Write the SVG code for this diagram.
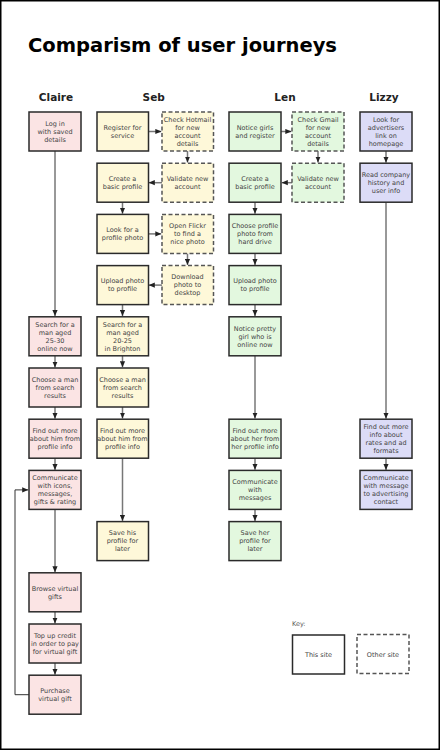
<svg xmlns="http://www.w3.org/2000/svg" width="440" height="750" viewBox="0 0 440 750">
<style>
.box{stroke:#2a2a2a;stroke-width:1.5}
.dash{stroke:#555;stroke-width:1.5;stroke-dasharray:4 2.5}
.claire{fill:#fbe4e4}.seb{fill:#fef8d9}.len{fill:#e3f8df}.lizzy{fill:#dcdcf7}.white{fill:#fff}
.t{font-family:"DejaVu Sans",Verdana,sans-serif;font-size:6.5px;fill:#444;text-anchor:middle}
.h{font-family:"DejaVu Sans",Verdana,sans-serif;font-size:10.5px;font-weight:bold;fill:#222;text-anchor:middle}
.c{fill:none;stroke:#333;stroke-width:1;marker-end:url(#arr)}
.g{fill:none;stroke:#777;stroke-width:1.5;marker-end:url(#arr)}
</style>
<defs>
<marker id="arr" markerUnits="userSpaceOnUse" markerWidth="6" markerHeight="6" viewBox="0 0 6 6" refX="6" refY="3" orient="auto">
<path d="M0,0.4 L6,3 L0,5.6 z" fill="#222"/>
</marker>
</defs>
<rect x="0.75" y="0.75" width="438.5" height="748.5" fill="#fff" stroke="#000" stroke-width="1.5"/>
<text x="28" y="51.5" font-family="DejaVu Sans,Verdana,sans-serif" font-size="19.5" font-weight="bold" fill="#000">Comparism of user journeys</text>
<g id="headers">
<text class="h" x="56" y="101">Claire</text>
<text class="h" x="153.7" y="101">Seb</text>
<text class="h" x="285" y="101">Len</text>
<text class="h" x="384" y="101">Lizzy</text>
</g>
<g id="connectors">
<path class="c" d="M55,151V316"/>
<path class="c" d="M55,355.8V367.5"/>
<path class="c" d="M55,407V418.7"/>
<path class="c" d="M55,458.2V469.9"/>
<path class="c" d="M55,509.4V572.3"/>
<path class="c" d="M55,611.8V623.5"/>
<path class="c" d="M55,663V674.7"/>
<path class="c" d="M29,694.7H15V489.9H28.2"/>
<path class="g" d="M148.5,131.5H161.3"/>
<path class="g" d="M187.5,151V162.5"/>
<path class="g" d="M162,182.7H148.8"/>
<path class="g" d="M122.5,202.2V213.7"/>
<path class="g" d="M148.5,233.9H161.3"/>
<path class="g" d="M187.5,253.4V264.9"/>
<path class="g" d="M162,285.1H148.8"/>
<path class="g" d="M122.5,304.6V316.1"/>
<path class="g" d="M122.5,355.8V367.3"/>
<path class="g" d="M122.5,407V418.5"/>
<path class="g" d="M122.5,458.2V520.9"/>
<path class="g" d="M281,131.5H291.3"/>
<path class="g" d="M318,151V162.5"/>
<path class="g" d="M292,182.7H281.8"/>
<path class="g" d="M255,202.2V213.7"/>
<path class="g" d="M255,253.4V264.9"/>
<path class="g" d="M255,304.6V316.1"/>
<path class="g" d="M255,355.8V418.5"/>
<path class="g" d="M255,458.2V469.7"/>
<path class="g" d="M255,509.4V520.9"/>
<path class="c" d="M386,151V162.7"/>
<path class="c" d="M386,202.2V418.7"/>
<path class="c" d="M386,458.2V469.9"/>
</g>
<g id="claire-login"><rect class="box claire" x="29" y="112" width="52" height="39"/><text class="t" y="125.8"><tspan x="55">Log in</tspan><tspan x="55" dy="8">with saved</tspan><tspan x="55" dy="8">details</tspan></text></g>
<g id="claire-search"><rect class="box claire" x="29" y="316.8" width="52" height="39"/><text class="t" y="326.6"><tspan x="55">Search for a</tspan><tspan x="55" dy="8">man aged</tspan><tspan x="55" dy="8">25-30</tspan><tspan x="55" dy="8">online now</tspan></text></g>
<g id="claire-choose"><rect class="box claire" x="29" y="368" width="52" height="39"/><text class="t" y="381.8"><tspan x="55">Choose a man</tspan><tspan x="55" dy="8">from search</tspan><tspan x="55" dy="8">results</tspan></text></g>
<g id="claire-find"><rect class="box claire" x="29" y="419.2" width="52" height="39"/><text class="t" y="433"><tspan x="55">Find out more</tspan><tspan x="55" dy="8">about him from</tspan><tspan x="55" dy="8">profile info</tspan></text></g>
<g id="claire-communicate"><rect class="box claire" x="29" y="470.4" width="52" height="39"/><text class="t" y="480.2"><tspan x="55">Communicate</tspan><tspan x="55" dy="8">with icons,</tspan><tspan x="55" dy="8">messages,</tspan><tspan x="55" dy="8">gifts &amp; rating</tspan></text></g>
<g id="claire-browse"><rect class="box claire" x="29" y="572.8" width="52" height="39"/><text class="t" y="590.6"><tspan x="55">Browse virtual</tspan><tspan x="55" dy="8">gifts</tspan></text></g>
<g id="claire-topup"><rect class="box claire" x="29" y="624" width="52" height="39"/><text class="t" y="637.8"><tspan x="55">Top up credit</tspan><tspan x="55" dy="8">in order to pay</tspan><tspan x="55" dy="8">for virtual gift</tspan></text></g>
<g id="claire-purchase"><rect class="box claire" x="29" y="675.2" width="52" height="39"/><text class="t" y="693"><tspan x="55">Purchase</tspan><tspan x="55" dy="8">virtual gift</tspan></text></g>
<g id="seb-register"><rect class="box seb" x="97" y="112" width="51.5" height="39"/><text class="t" y="129.8"><tspan x="122.5">Register for</tspan><tspan x="122.5" dy="8">service</tspan></text></g>
<g id="seb-hotmail"><rect class="dash seb" x="162" y="112" width="51.5" height="39"/><text class="t" y="121.8"><tspan x="187.5">Check Hotmail</tspan><tspan x="187.5" dy="8">for new</tspan><tspan x="187.5" dy="8">account</tspan><tspan x="187.5" dy="8">details</tspan></text></g>
<g id="seb-create"><rect class="box seb" x="97" y="163.2" width="51.5" height="39"/><text class="t" y="181"><tspan x="122.5">Create a</tspan><tspan x="122.5" dy="8">basic profile</tspan></text></g>
<g id="seb-validate"><rect class="dash seb" x="162" y="163.2" width="51.5" height="39"/><text class="t" y="181"><tspan x="187.5">Validate new</tspan><tspan x="187.5" dy="8">account</tspan></text></g>
<g id="seb-look"><rect class="box seb" x="97" y="214.4" width="51.5" height="39"/><text class="t" y="232.2"><tspan x="122.5">Look for a</tspan><tspan x="122.5" dy="8">profile photo</tspan></text></g>
<g id="seb-flickr"><rect class="dash seb" x="162" y="214.4" width="51.5" height="39"/><text class="t" y="228.2"><tspan x="187.5">Open Flickr</tspan><tspan x="187.5" dy="8">to find a</tspan><tspan x="187.5" dy="8">nice photo</tspan></text></g>
<g id="seb-upload"><rect class="box seb" x="97" y="265.6" width="51.5" height="39"/><text class="t" y="283.4"><tspan x="122.5">Upload photo</tspan><tspan x="122.5" dy="8">to profile</tspan></text></g>
<g id="seb-download"><rect class="dash seb" x="162" y="265.6" width="51.5" height="39"/><text class="t" y="279.4"><tspan x="187.5">Download</tspan><tspan x="187.5" dy="8">photo to</tspan><tspan x="187.5" dy="8">desktop</tspan></text></g>
<g id="seb-search"><rect class="box seb" x="97" y="316.8" width="51.5" height="39"/><text class="t" y="326.6"><tspan x="122.5">Search for a</tspan><tspan x="122.5" dy="8">man aged</tspan><tspan x="122.5" dy="8">20-25</tspan><tspan x="122.5" dy="8">in Brighton</tspan></text></g>
<g id="seb-choose"><rect class="box seb" x="97" y="368" width="51.5" height="39"/><text class="t" y="381.8"><tspan x="122.5">Choose a man</tspan><tspan x="122.5" dy="8">from search</tspan><tspan x="122.5" dy="8">results</tspan></text></g>
<g id="seb-find"><rect class="box seb" x="97" y="419.2" width="51.5" height="39"/><text class="t" y="433"><tspan x="122.5">Find out more</tspan><tspan x="122.5" dy="8">about him from</tspan><tspan x="122.5" dy="8">profile info</tspan></text></g>
<g id="seb-save"><rect class="box seb" x="97" y="521.6" width="51.5" height="39"/><text class="t" y="535.4"><tspan x="122.5">Save his</tspan><tspan x="122.5" dy="8">profile for</tspan><tspan x="122.5" dy="8">later</tspan></text></g>
<g id="len-notice"><rect class="box len" x="229" y="112" width="52" height="39"/><text class="t" y="129.8"><tspan x="255">Notice girls</tspan><tspan x="255" dy="8">and register</tspan></text></g>
<g id="len-gmail"><rect class="dash len" x="292" y="112" width="52" height="39"/><text class="t" y="121.8"><tspan x="318">Check Gmail</tspan><tspan x="318" dy="8">for new</tspan><tspan x="318" dy="8">account</tspan><tspan x="318" dy="8">details</tspan></text></g>
<g id="len-create"><rect class="box len" x="229" y="163.2" width="52" height="39"/><text class="t" y="181"><tspan x="255">Create a</tspan><tspan x="255" dy="8">basic profile</tspan></text></g>
<g id="len-validate"><rect class="dash len" x="292" y="163.2" width="52" height="39"/><text class="t" y="181"><tspan x="318">Validate new</tspan><tspan x="318" dy="8">account</tspan></text></g>
<g id="len-choose"><rect class="box len" x="229" y="214.4" width="52" height="39"/><text class="t" y="228.2"><tspan x="255">Choose profile</tspan><tspan x="255" dy="8">photo from</tspan><tspan x="255" dy="8">hard drive</tspan></text></g>
<g id="len-upload"><rect class="box len" x="229" y="265.6" width="52" height="39"/><text class="t" y="283.4"><tspan x="255">Upload photo</tspan><tspan x="255" dy="8">to profile</tspan></text></g>
<g id="len-pretty"><rect class="box len" x="229" y="316.8" width="52" height="39"/><text class="t" y="330.6"><tspan x="255">Notice pretty</tspan><tspan x="255" dy="8">girl who is</tspan><tspan x="255" dy="8">online now</tspan></text></g>
<g id="len-find"><rect class="box len" x="229" y="419.2" width="52" height="39"/><text class="t" y="433"><tspan x="255">Find out more</tspan><tspan x="255" dy="8">about her from</tspan><tspan x="255" dy="8">her profile info</tspan></text></g>
<g id="len-communicate"><rect class="box len" x="229" y="470.4" width="52" height="39"/><text class="t" y="484.2"><tspan x="255">Communicate</tspan><tspan x="255" dy="8">with</tspan><tspan x="255" dy="8">messages</tspan></text></g>
<g id="len-save"><rect class="box len" x="229" y="521.6" width="52" height="39"/><text class="t" y="535.4"><tspan x="255">Save her</tspan><tspan x="255" dy="8">profile for</tspan><tspan x="255" dy="8">later</tspan></text></g>
<g id="lizzy-look"><rect class="box lizzy" x="360" y="112" width="52" height="39"/><text class="t" y="121.8"><tspan x="386">Look for</tspan><tspan x="386" dy="8">advertisers</tspan><tspan x="386" dy="8">link on</tspan><tspan x="386" dy="8">homepage</tspan></text></g>
<g id="lizzy-read"><rect class="box lizzy" x="360" y="163.2" width="52" height="39"/><text class="t" y="177"><tspan x="386">Read company</tspan><tspan x="386" dy="8">history and</tspan><tspan x="386" dy="8">user info</tspan></text></g>
<g id="lizzy-find"><rect class="box lizzy" x="360" y="419.2" width="52" height="39"/><text class="t" y="429"><tspan x="386">Find out more</tspan><tspan x="386" dy="8">info about</tspan><tspan x="386" dy="8">rates and ad</tspan><tspan x="386" dy="8">formats</tspan></text></g>
<g id="lizzy-communicate"><rect class="box lizzy" x="360" y="470.4" width="52" height="39"/><text class="t" y="480.2"><tspan x="386">Communicate</tspan><tspan x="386" dy="8">with message</tspan><tspan x="386" dy="8">to advertising</tspan><tspan x="386" dy="8">contact</tspan></text></g>
<g id="key">
<text class="t" x="292" y="626" style="text-anchor:start;fill:#555">Key:</text>
<rect class="box white" x="292.5" y="635" width="52" height="39"/>
<text class="t" x="318.5" y="656.5">This site</text>
<rect class="dash white" x="357" y="634.5" width="52" height="39"/>
<text class="t" x="383" y="656.5">Other site</text>
</g>
</svg>
